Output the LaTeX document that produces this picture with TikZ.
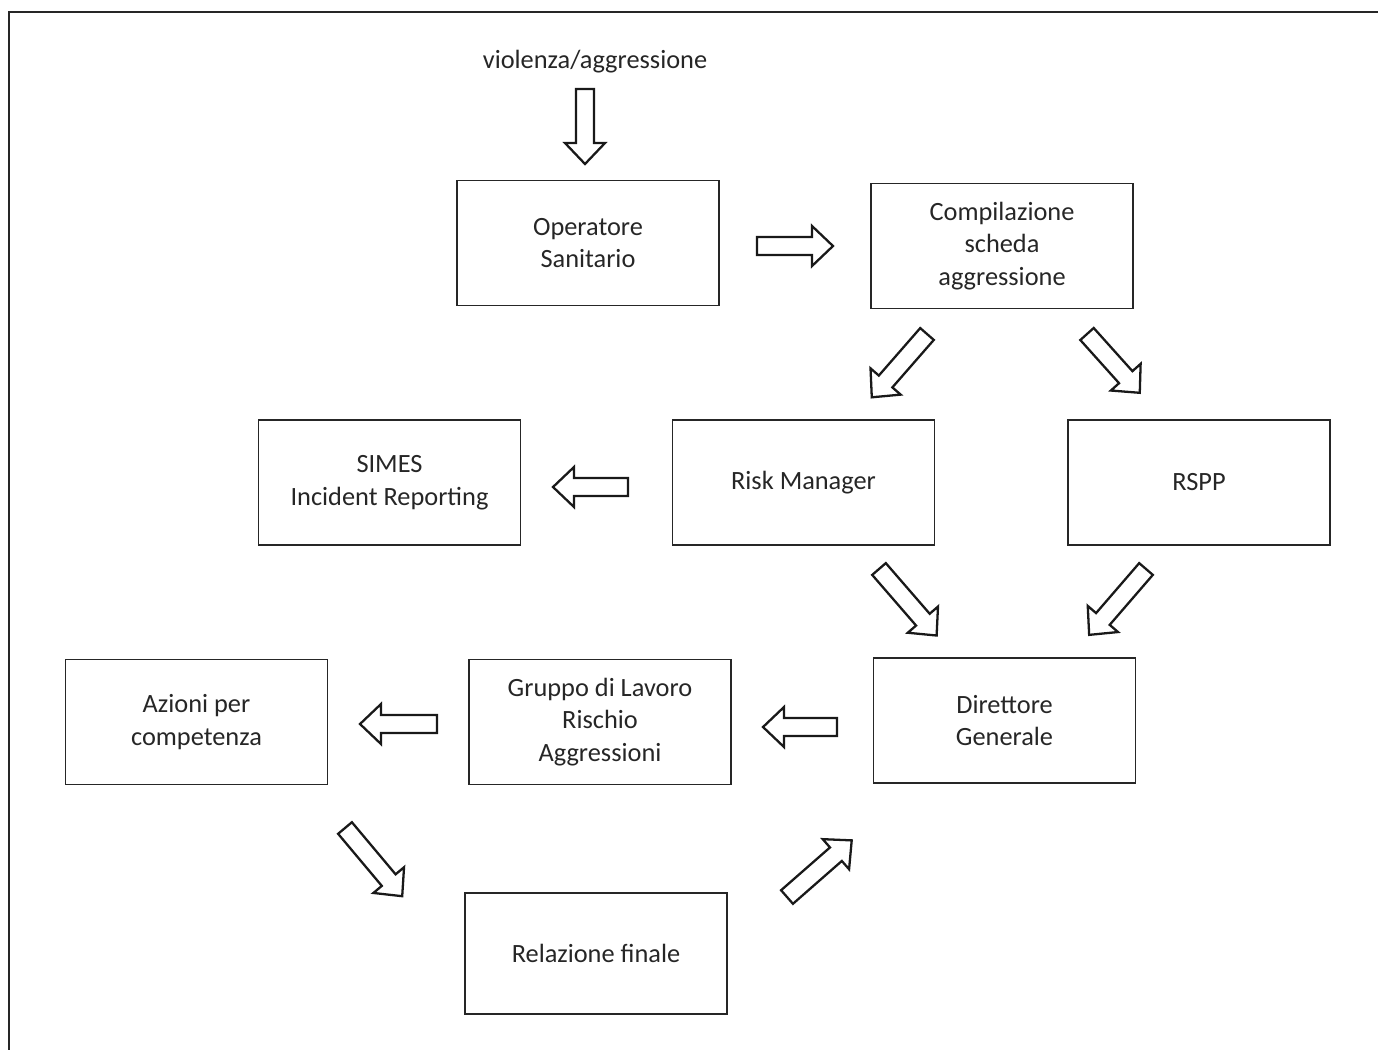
\documentclass[tikz,border=0pt]{standalone}
\usepackage{fontspec}
\setmainfont{Carlito}
\begin{document}
\begin{tikzpicture}[x=0.02cm,y=-0.02cm,
  box/.style={draw=black!85, line width=1pt, minimum width=5.24cm, minimum height=2.5cm,
    align=center, inner sep=0pt, font=\fontsize{15}{18.5}\selectfont, text=black!85},
  blockarrow/.style={draw=black!90, line width=1.3pt, line join=miter, fill=white},
  frame/.style={draw=black!85, line width=1.6pt}]
\newcommand{\barrow}[4]{\draw[blockarrow, shift={(#1,#2)}, rotate=#3] (0,-9) -- ({#4-21},-9) -- ({#4-21},-20) -- (#4,0) -- ({#4-21},20) -- ({#4-21},9) -- (0,9) -- cycle;}
\useasboundingbox (0,0) rectangle (1378,1049);
\draw[frame] (9,1070) -- (9,12) -- (1400,12);
\node[font=\fontsize{15}{18.5}\selectfont, text=black!85] (title) at (595,62) {violenza/aggressione};
\node[box] (op) at (588,243) {Operatore\\Sanitario};
\node[box] (comp) at (1002,246) {Compilazione\\scheda\\aggressione};
\node[box] (simes) at (389.5,482.5) {SIMES\\Incident Reporting};
\node[box] (risk) at (803.5,482.5) {Risk Manager};
\node[box] (rspp) at (1199,482.5) {RSPP};
\node[box] (azioni) at (196.5,722) {Azioni per\\competenza};
\node[box] (gruppo) at (600,722) {Gruppo di Lavoro\\Rischio\\Aggressioni};
\node[box] (dir) at (1004.5,720.5) {Direttore\\Generale};
\node[box, minimum height=2.42cm] (rel) at (596,953.5) {Relazione finale};
% block arrows: tail x, tail y, page angle, length
\barrow{585}{89}{-90}{75}
\barrow{757}{246}{0}{76}
\barrow{927}{334}{-131.1}{84}
\barrow{1087}{334}{-48.1}{79}
\barrow{879}{569}{-49.1}{88}
\barrow{1146}{569}{-130.8}{87}
\barrow{628}{487}{180}{75}
\barrow{837}{727}{180}{74}
\barrow{437}{724}{180}{77}
\barrow{345}{828}{-50}{89}
\barrow{787}{897}{41.2}{86}
\end{tikzpicture}
\end{document}
